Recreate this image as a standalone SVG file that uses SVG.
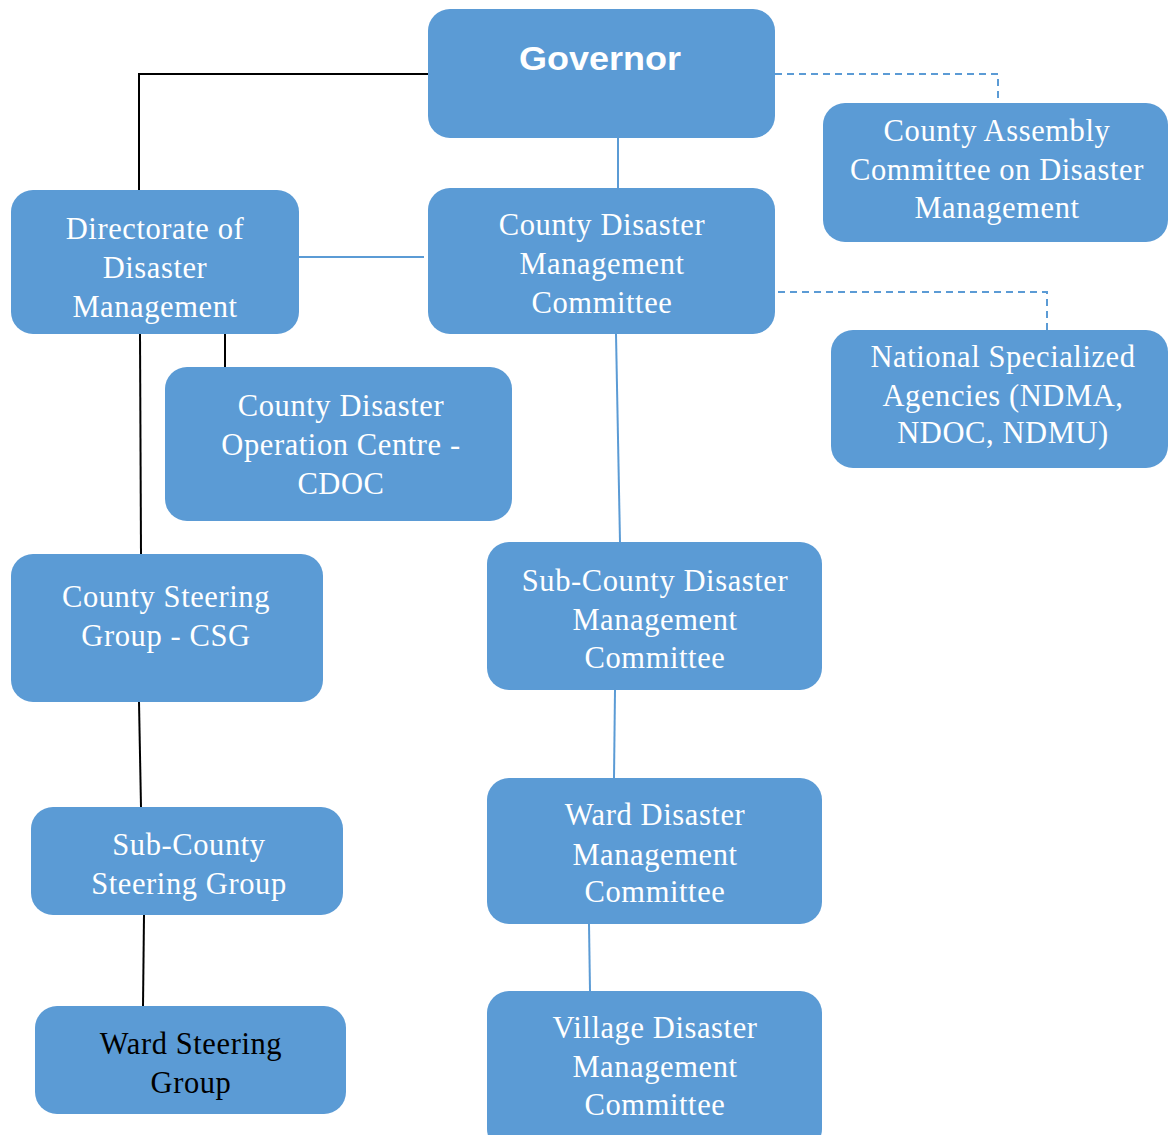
<svg xmlns="http://www.w3.org/2000/svg" width="1168" height="1135" viewBox="0 0 1168 1135">
<style>
.box{fill:#5B9BD5;}
.t{font-family:"Liberation Serif","Times New Roman",serif;font-size:30.5px;letter-spacing:0.6px;fill:#ffffff;text-anchor:middle;}
.tb{fill:#000000;}
.gov{font-family:"Liberation Sans",Arial,sans-serif;font-size:34px;font-weight:bold;fill:#ffffff;text-anchor:middle;}
.blk{stroke:#000000;stroke-width:2;fill:none;}
.blu{stroke:#5B9BD5;stroke-width:2;fill:none;}
.dash{stroke:#5B9BD5;stroke-width:2;fill:none;stroke-dasharray:7,5;}
</style>
<rect width="1168" height="1135" fill="#ffffff"/>
<g id="connectors">
<polyline class="blk" points="428,74 139,74 139,190"/>
<line class="blu" x1="299" y1="257" x2="424" y2="257"/>
<line class="blu" x1="618" y1="138" x2="618" y2="188"/>
<polyline class="dash" points="775,74 998,74 998,103"/>
<polyline class="dash" points="778,292 1047,292 1047,330"/>
<line class="blk" x1="225" y1="334" x2="225" y2="367"/>
<line class="blk" x1="140" y1="334" x2="141" y2="554"/>
<line class="blu" x1="616" y1="334" x2="620" y2="542"/>
<line class="blk" x1="139" y1="702" x2="141" y2="807"/>
<line class="blk" x1="144" y1="915" x2="143" y2="1006"/>
<line class="blu" x1="615" y1="690" x2="614" y2="778"/>
<line class="blu" x1="589" y1="924" x2="590" y2="991"/>
</g>
<g id="governor">
<rect class="box" x="428" y="9" width="347" height="129" rx="22"/>
<text class="gov" x="600" y="70" textLength="162" lengthAdjust="spacingAndGlyphs">Governor</text>
</g>
<g id="county-assembly">
<rect class="box" x="823" y="103" width="345" height="139" rx="22"/>
<text class="t" x="997" y="141">County Assembly</text>
<text class="t" x="997" y="180">Committee on Disaster</text>
<text class="t" x="997" y="218">Management</text>
</g>
<g id="directorate">
<rect class="box" x="11" y="190" width="288" height="144" rx="22"/>
<text class="t" x="155" y="239">Directorate of</text>
<text class="t" x="155" y="278">Disaster</text>
<text class="t" x="155" y="317">Management</text>
</g>
<g id="cdmc">
<rect class="box" x="428" y="188" width="347" height="146" rx="22"/>
<text class="t" x="602" y="235">County Disaster</text>
<text class="t" x="602" y="274">Management</text>
<text class="t" x="602" y="313">Committee</text>
</g>
<g id="national">
<rect class="box" x="831" y="330" width="337" height="138" rx="22"/>
<text class="t" x="1003" y="367">National Specialized</text>
<text class="t" x="1003" y="406">Agencies (NDMA,</text>
<text class="t" x="1003" y="443">NDOC, NDMU)</text>
</g>
<g id="cdoc">
<rect class="box" x="165" y="367" width="347" height="154" rx="22"/>
<text class="t" x="341" y="416">County Disaster</text>
<text class="t" x="341" y="455">Operation Centre -</text>
<text class="t" x="341" y="494">CDOC</text>
</g>
<g id="csg">
<rect class="box" x="11" y="554" width="312" height="148" rx="22"/>
<text class="t" x="166" y="607">County Steering</text>
<text class="t" x="166" y="646">Group - CSG</text>
</g>
<g id="subcounty-dmc">
<rect class="box" x="487" y="542" width="335" height="148" rx="22"/>
<text class="t" x="655" y="591">Sub-County Disaster</text>
<text class="t" x="655" y="630">Management</text>
<text class="t" x="655" y="668">Committee</text>
</g>
<g id="subcounty-sg">
<rect class="box" x="31" y="807" width="312" height="108" rx="22"/>
<text class="t" x="189" y="855">Sub-County</text>
<text class="t" x="189" y="894">Steering Group</text>
</g>
<g id="ward-dmc">
<rect class="box" x="487" y="778" width="335" height="146" rx="22"/>
<text class="t" x="655" y="825">Ward Disaster</text>
<text class="t" x="655" y="865">Management</text>
<text class="t" x="655" y="902">Committee</text>
</g>
<g id="ward-sg">
<rect class="box" x="35" y="1006" width="311" height="108" rx="22"/>
<text class="t tb" x="191" y="1054">Ward Steering</text>
<text class="t tb" x="191" y="1093">Group</text>
</g>
<g id="village-dmc">
<rect class="box" x="487" y="991" width="335" height="160" rx="22"/>
<text class="t" x="655" y="1038">Village Disaster</text>
<text class="t" x="655" y="1077">Management</text>
<text class="t" x="655" y="1115">Committee</text>
</g>
</svg>
